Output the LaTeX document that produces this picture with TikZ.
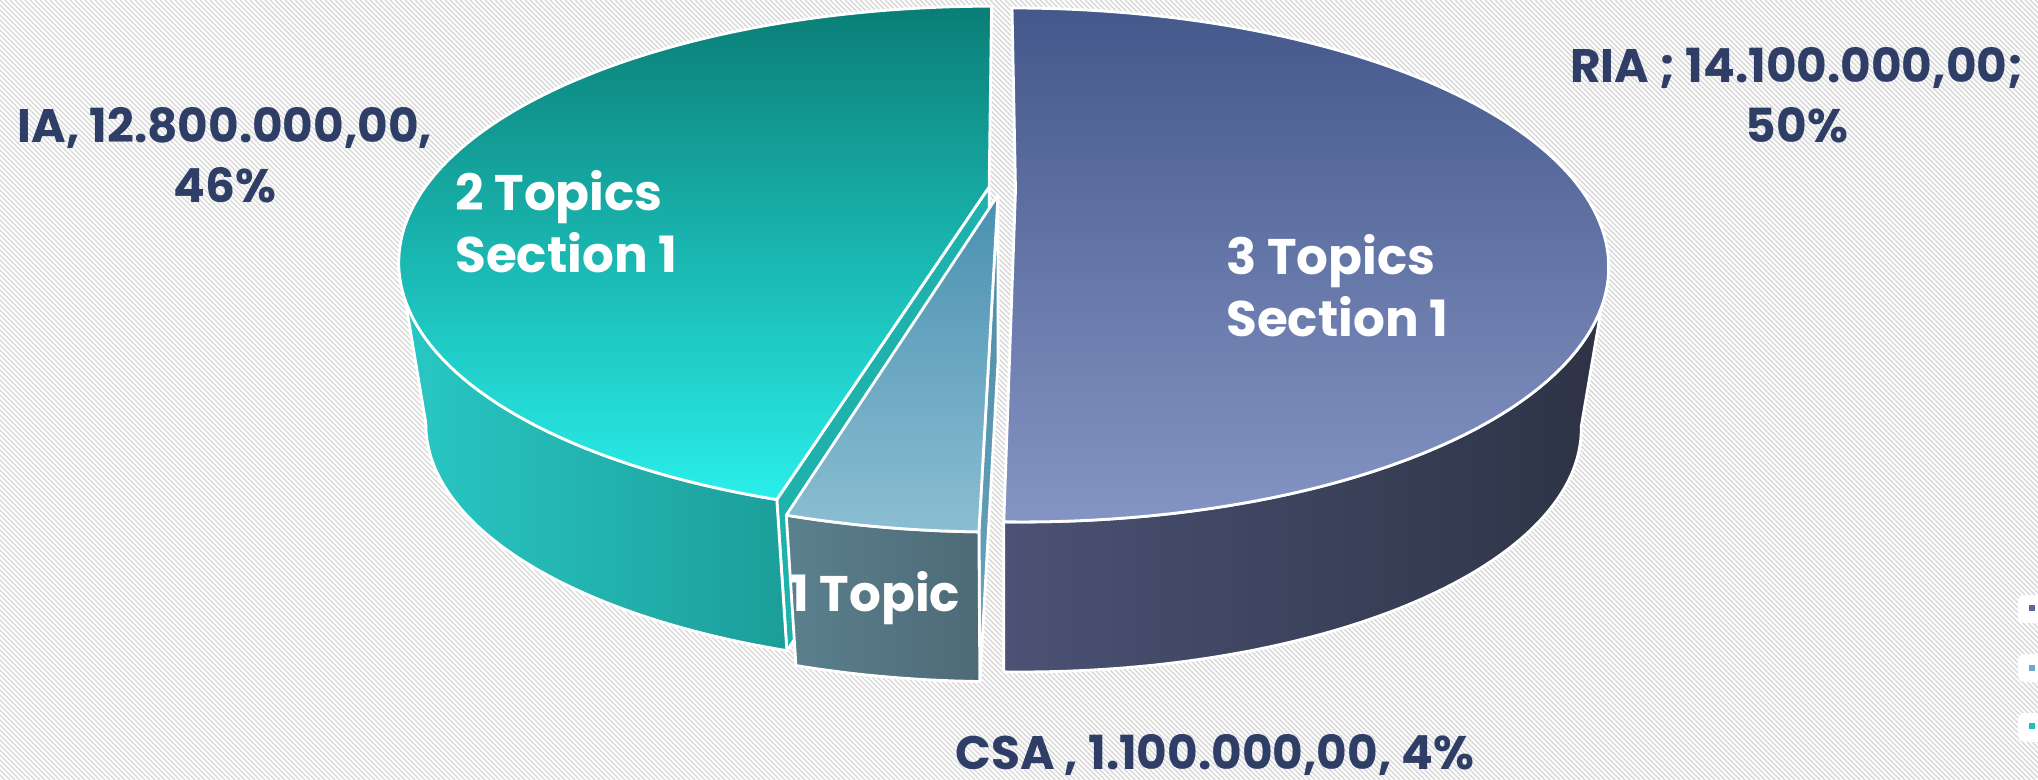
\documentclass[tikz,border=0pt]{standalone}
\usepackage{fontspec}
\setmainfont{Poppins}
\definecolor{lbl}{HTML}{2E3E66}
\definecolor{riaT1}{HTML}{45588B}
\definecolor{riaT2}{HTML}{8494C4}
\definecolor{riaS1}{HTML}{4B5275}
\definecolor{riaS2}{HTML}{2D3344}
\definecolor{iaT1}{HTML}{0A7E76}
\definecolor{iaT2}{HTML}{22D0CE}
\definecolor{iaT3}{HTML}{2AEEEA}
\definecolor{iaS1}{HTML}{29C8C4}
\definecolor{iaS2}{HTML}{1C9E9A}
\definecolor{iaE}{HTML}{1FB2AC}
\definecolor{csT1}{HTML}{4A90B0}
\definecolor{csT2}{HTML}{8BBED2}
\definecolor{csS1}{HTML}{5B808E}
\definecolor{csS2}{HTML}{4E6A76}
\definecolor{csE1}{HTML}{4A8CA8}
\definecolor{csE2}{HTML}{6CA4BC}
\definecolor{hatchc}{HTML}{D8D8D8}
\definecolor{legA}{HTML}{5A6AA0}
\definecolor{legB}{HTML}{6AAAC8}
\definecolor{legC}{HTML}{1EC0BC}
% #1 du, #2 dv, #3 start angle, #4 end angle, #5 style
\newcommand\slicetop[5]{%
  \path[#5] ({px(#1,#2)},{py(#1,#2)}) -- plot[variable=\t,domain=#3:#4,samples=120]
    ({px(#1+cos(\t),#2+sin(\t))},{py(#1+cos(\t),#2+sin(\t))}) -- cycle;}
\newcommand\slicewall[5]{%
  \path[#5] plot[variable=\t,domain=#3:#4,samples=80]
    ({px(#1+cos(\t),#2+sin(\t))},{py(#1+cos(\t),#2+sin(\t))})
    -- plot[variable=\t,domain=#4:#3,samples=80]
    ({bx(#1+cos(\t),#2+sin(\t))},{by(#1+cos(\t),#2+sin(\t))}) -- cycle;}
\newcommand\sliceend[4]{%
  \path[#4] ({px(#1,#2)},{py(#1,#2)})
    -- ({px(#1+cos(#3),#2+sin(#3))},{py(#1+cos(#3),#2+sin(#3))})
    -- ({bx(#1+cos(#3),#2+sin(#3))},{by(#1+cos(#3),#2+sin(#3))})
    -- ({bx(#1,#2)},{by(#1,#2)}) -- cycle;}
\begin{document}
\begin{tikzpicture}[x=0.5pt,y=-0.5pt,
  declare function={
    px(\p,\q)=1000+566*\p/(1+0.2918*\q);
    py(\p,\q)=190-235.1*\q/(1+0.2918*\q);
    bx(\p,\q)=1000+540.5*\p/(1+0.2918*\q);
    by(\p,\q)=355-224.5*\q/(1+0.2918*\q);
  },
  face/.style={draw=white,line width=1.4pt,line join=round},
  hatch/.style={draw=hatchc,line width=0.7pt},
  outer/.style={text=lbl,font=\bfseries\fontsize{23.5}{30}\selectfont,align=center,inner sep=0pt},
  inlbl/.style={text=white,font=\bfseries\fontsize{25}{31}\selectfont,align=left,inner sep=0pt,anchor=west},
  legbox/.style={fill=white,rounded corners=3pt},
  legsq/.style={minimum size=3pt,inner sep=0pt}
]
\useasboundingbox (0,0) rectangle (2038,780);
\fill[white] (0,0) rectangle (2038,780);
\begin{scope}
  \clip (0,0) rectangle (2038,780);
  \foreach \i in {-160,...,410} \draw[hatch] (\i*5,0) -- ++(780,780);
\end{scope}

% RIA (right half)
\slicewall{0.0274}{0}{-91.3}{-16.97}{face,left color=riaS1,right color=riaS2}
\slicetop{0.0274}{0}{-91.3}{90}{face,top color=riaT1,bottom color=riaT2}

% IA
\sliceend{-0.0194}{0.0128}{254.6}{face,fill=iaE}
\slicewall{-0.0194}{0.0128}{196.97}{254.6}{face,left color=iaS1,right color=iaS2}
\slicetop{-0.0194}{0.0128}{90}{254.6}{face,top color=iaT1,middle color=iaT2,bottom color=iaT3}

% CSA
\sliceend{-0.0035}{-0.0213}{268.7}{face,top color=csE1,bottom color=csE2}
\slicewall{-0.0035}{-0.0213}{254.6}{268.7}{face,left color=csS1,right color=csS2}
\slicetop{-0.0035}{-0.0213}{254.6}{268.7}{face,top color=csT1,bottom color=csT2}

% labels
\node[outer] (ialbl) at (225,155) {IA, 12.800.000,00,\\46\%};
\node[outer] (rialbl) at (1797,95) {RIA ; 14.100.000,00;\\50\%};
\node[outer] (csalbl) at (1215,755) {CSA , 1.100.000,00, 4\%};
\node[inlbl] (iain) at (455,222) {2 Topics\\Section 1};
\node[inlbl] (riain) at (1226,286) {3 Topics\\Section 1};
\node[inlbl] (csain) at (790,598) {1 Topic};

% legend
\fill[legbox] (2018,595) rectangle (2050,623);
\fill[legbox] (2018,654) rectangle (2050,682);
\fill[legbox] (2018,713) rectangle (2050,742);
\node[legsq,fill=legA] (legria) at (2032,608) {};
\node[legsq,fill=legB] (legcsa) at (2032,668) {};
\node[legsq,fill=legC] (legia) at (2032,726) {};
\end{tikzpicture}
\end{document}
